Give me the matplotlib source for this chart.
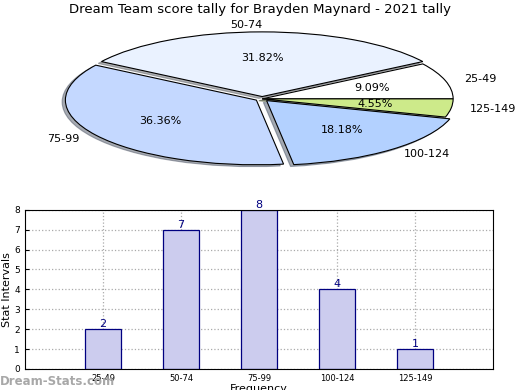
import matplotlib
matplotlib.use('Agg')
import matplotlib.pyplot as plt

# score bands and how many games fell in each
bands = ['25-49', '50-74', '75-99', '100-124', '125-149']
counts = [2, 7, 8, 4, 1]
pie_colors = ['#ffffff', '#eaf2ff', '#c4d8ff', '#b3d1ff', '#cdea8a']
explode = [0, 0.035, 0.035, 0.035, 0]

title = 'Dream Team score tally for Brayden Maynard - 2021 tally'

fig = plt.figure(figsize=(5.2, 3.9), dpi=100)

# pie on top, squashed into an ellipse
ax1 = fig.add_axes([0.0356, 0.535, 0.937, 0.423])
wedges, texts, autotexts = ax1.pie(counts, labels=bands, colors=pie_colors,
                                   explode=explode, autopct='%1.2f%%',
                                   radius=0.98, labeldistance=1.1,
                                   shadow={'ox': -0.012, 'oy': -0.02, 'shade': 0.6},
                                   startangle=0,
                                   wedgeprops={'edgecolor': 'black', 'linewidth': 0.8},
                                   textprops={'fontsize': 8})
ax1.set_aspect('auto')
ax1.set_xlim(-1.25, 1.25)
ax1.set_ylim(-1.25, 1.25)
fig.text(0.5, 0.975, title, ha='center', va='center', fontsize=9.5)

# bar chart underneath
ax2 = fig.add_axes([0.048, 0.054, 0.9, 0.408])
pos = list(range(1, len(bands) + 1))
bars = ax2.bar(pos, counts, width=0.46, color='#ccccee', edgecolor='#000080', linewidth=0.9, zorder=2)
for p, c in zip(pos, counts):
    ax2.text(p, c, str(c), ha='center', va='bottom', color='#000080', fontsize=8)
ax2.set_xlim(0, 6)
ax2.set_ylim(0, 8)
ax2.set_xticks(pos)
ax2.set_xticklabels(bands, fontsize=6)
ax2.set_yticks(range(0, 9))
ax2.tick_params(axis='y', labelsize=6.5, length=3, direction='in')
ax2.tick_params(axis='x', length=3, direction='in')
ax2.grid(True, linestyle=':', color='#aaaaaa', linewidth=0.9, zorder=0)
ax2.set_axisbelow(True)
ax2.set_ylabel('Stat Intervals', fontsize=8, labelpad=2)
ax2.set_xlabel('Frequency', fontsize=8, labelpad=1)

fig.text(0.0, 0.022, 'Dream-Stats.com', fontsize=8.5, color='#a8a8a8',
         fontweight='bold', ha='left', va='center')

fig.savefig('out.png', dpi=100)
